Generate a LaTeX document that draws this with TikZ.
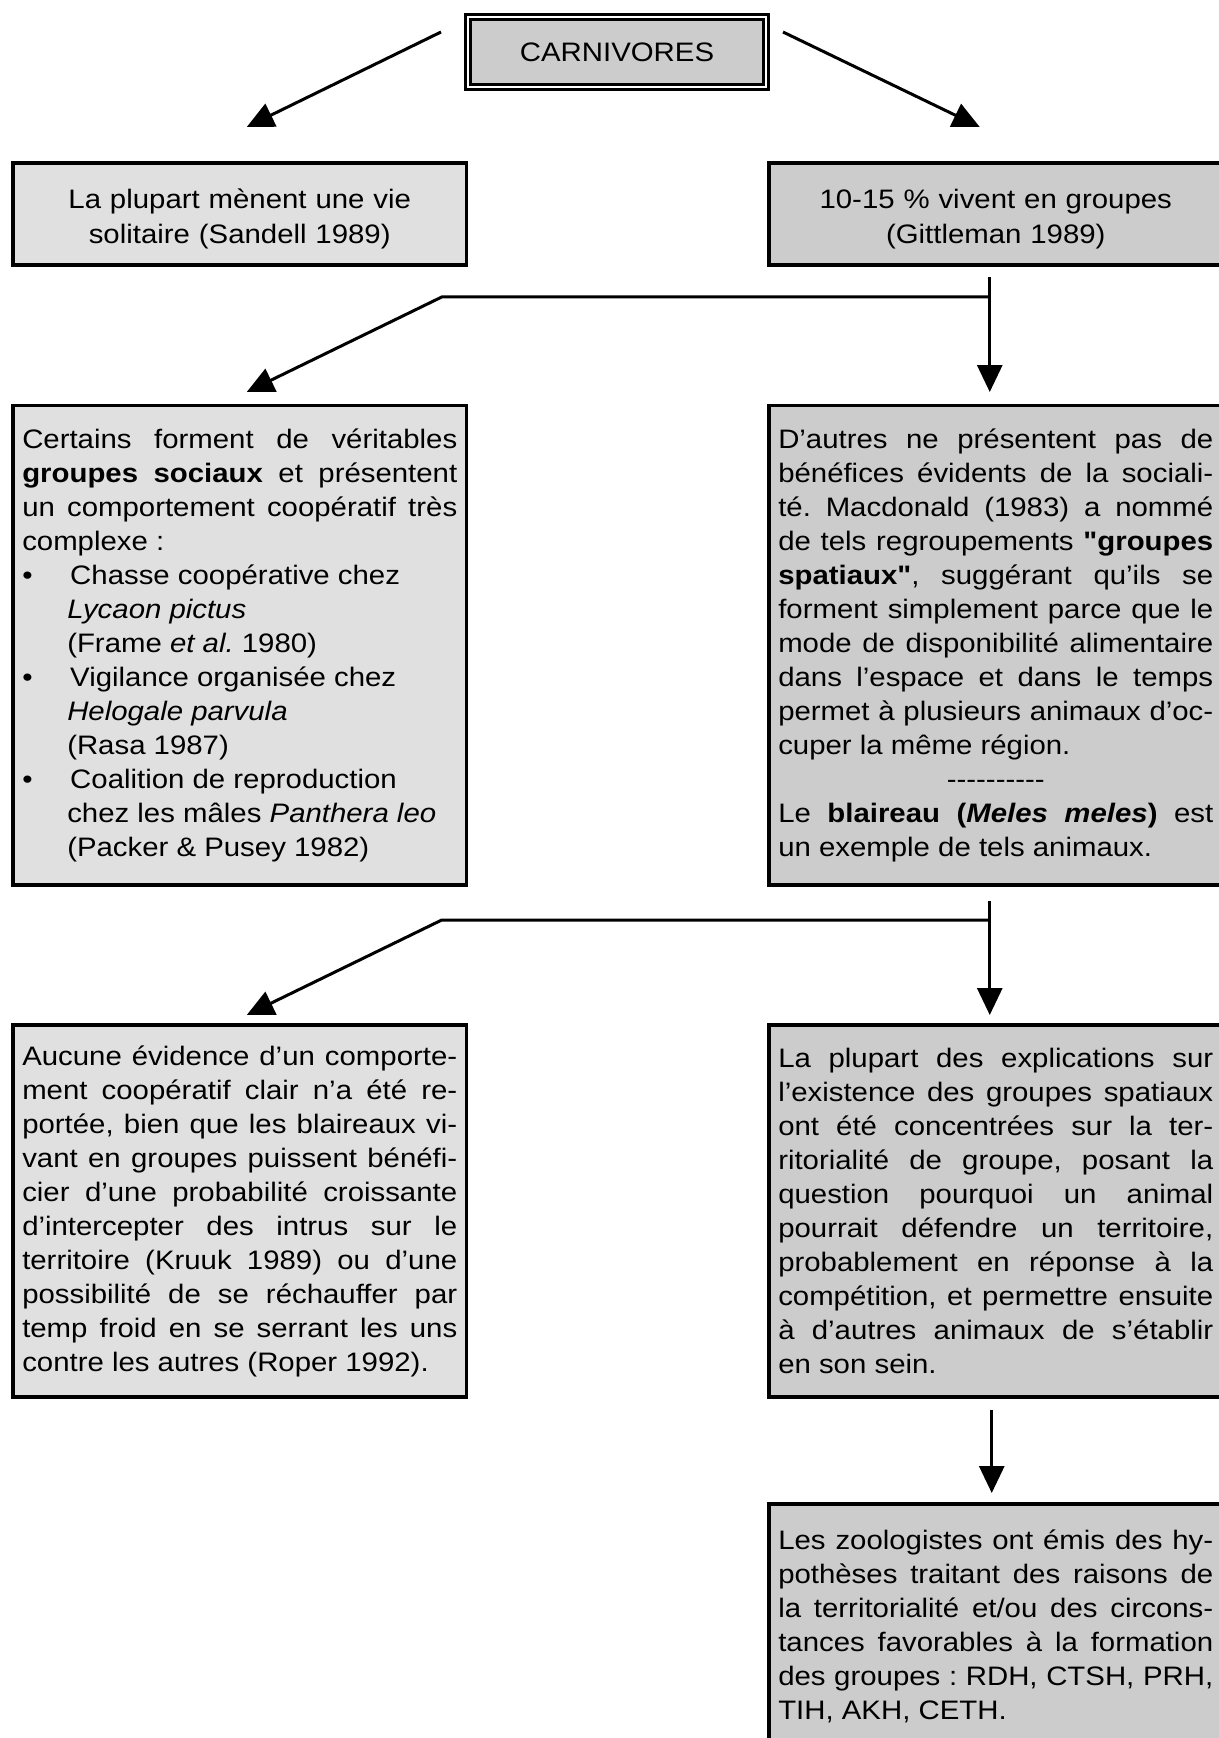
\documentclass[tikz,border=0pt]{standalone}
\usepackage{fontspec}
\setmainfont{Liberation Sans}[FakeStretch=1.1, Ligatures=TeXOff]
\usepackage{tikz}
\usetikzlibrary{positioning, arrows.meta}
\definecolor{lightgrey}{HTML}{E0E0E0}
\definecolor{midgrey}{HTML}{CCCCCC}
\frenchspacing

\begin{document}
\begin{tikzpicture}[
    x=0.5pt, y=-0.5pt,
    node distance=70pt and 151.25pt,
    box/.style={rectangle, draw=black, line width=1.75pt, outer sep=0pt,
                text width=217.5pt, inner xsep=4.625pt, inner ysep=0pt,
                font=\fontsize{13.35}{17}\selectfont},
    lightbox/.style={box, fill=lightgrey},
    darkbox/.style={box, fill=midgrey},
    titlebox/.style={rectangle, draw=black, line width=1.6pt, double=white,
                     double distance=1pt, fill=midgrey, outer sep=0pt,
                     minimum width=149pt, minimum height=35pt,
                     font=\fontsize{13.35}{17}\selectfont},
    arrow/.style={line width=1.5pt, -{Triangle[length=13.5pt, width=12.5pt]}}
]
    \useasboundingbox (0,0) rectangle (1219,1738);

    \node [titlebox] (carn) at (617,52) {CARNIVORES};

    % first level
    \node [lightbox, align=center, minimum height=51pt,
           font=\fontsize{13.35}{17.5}\selectfont, anchor=north west] (sol) at (13,163)
          {\rule{0pt}{15pt}La plupart mènent une vie\\solitaire (Sandell 1989)};
    \node [darkbox, align=center, minimum height=51pt,
           font=\fontsize{13.35}{17.5}\selectfont, right=of sol] (grp)
          {\rule{0pt}{15pt}10-15 \% vivent en groupes\\(Gittleman 1989)};

    % second level
    \node [lightbox, align=justify, minimum height=239.75pt, below=70.25pt of sol] (soc)
          {Certains forment de véritables\linebreak
           \textbf{groupes sociaux} et présentent\linebreak
           un comportement coopératif très\linebreak
           complexe :\\
           \makebox[24pt][l]{•}Chasse coopérative chez\\
           \hspace*{22.5pt}\textit{Lycaon pictus}\\
           \hspace*{22.5pt}(Frame \textit{et al.} 1980)\\
           \makebox[24pt][l]{•}Vigilance organisée chez\\
           \hspace*{22.5pt}\textit{Helogale parvula}\\
           \hspace*{22.5pt}(Rasa 1987)\\
           \makebox[24pt][l]{•}Coalition de reproduction\\
           \hspace*{22.5pt}chez les mâles \textit{Panthera leo}\\
           \hspace*{22.5pt}(Packer \& Pusey 1982)};
    \node [darkbox, align=justify, minimum height=239.75pt, right=of soc] (spat)
          {D’autres ne présentent pas de\linebreak
           bénéfices évidents de la sociali-\linebreak
           té. Macdonald (1983) a nommé\linebreak
           de tels regroupements \textbf{"groupes\linebreak
           spatiaux"}, suggérant qu’ils se\linebreak
           forment simplement parce que le\linebreak
           mode de disponibilité alimentaire\linebreak
           dans l’espace et dans le temps\linebreak
           permet à plusieurs animaux d’oc-\linebreak
           cuper la même région.\\
           \makebox[\linewidth]{----------}\\
           Le \textbf{blaireau (\textit{Meles meles})} est\linebreak
           un exemple de tels animaux.};

    % third level
    \node [lightbox, align=justify, minimum height=186pt, below=70pt of soc] (coop)
          {Aucune évidence d’un comporte-\linebreak
           ment coopératif clair n’a été re-\linebreak
           portée, bien que les blaireaux vi-\linebreak
           vant en groupes puissent bénéfi-\linebreak
           cier d’une probabilité croissante\linebreak
           d’intercepter des intrus sur le\linebreak
           territoire (Kruuk 1989) ou d’une\linebreak
           possibilité de se réchauffer par\linebreak
           temp froid en se serrant les uns\linebreak
           contre les autres (Roper 1992).};
    \node [darkbox, align=justify, minimum height=186pt, right=of coop] (terr)
          {La plupart des explications sur\linebreak
           l’existence des groupes spatiaux\linebreak
           ont été concentrées sur la ter-\linebreak
           ritorialité de groupe, posant la\linebreak
           question pourquoi un animal\linebreak
           pourrait défendre un territoire,\linebreak
           probablement en réponse à la\linebreak
           compétition, et permettre ensuite\linebreak
           à d’autres animaux de s’établir\linebreak
           en son sein.};

    % fourth level
    \node [darkbox, align=justify, minimum height=122.5pt, below=53.5pt of terr] (hypo)
          {Les zoologistes ont émis des hy-\linebreak
           pothèses traitant des raisons de\linebreak
           la territorialité et/ou des circons-\linebreak
           tances favorables à la formation\linebreak
           des groupes : RDH, CTSH, PRH,\linebreak
           TIH, AKH, CETH.};

    \draw [arrow] ([shift={(-27,-20)}]carn.west) -- ([shift={(7,-36)}]sol.north);
    \draw [arrow] ([shift={(17,-20)}]carn.east) -- ([shift={(-16,-36)}]grp.north);

    \draw [arrow] ([shift={(-6,12)}]grp.south) -- ([shift={(-6,-13.5)}]spat.north);
    \draw [arrow] ([shift={(-6,32)}]grp.south) -- ++(-548,0) -- ([shift={(7,-13.5)}]soc.north);

    \draw [arrow] ([shift={(-6,16)}]spat.south) -- ([shift={(-6,-10)}]terr.north);
    \draw [arrow] ([shift={(-6,35)}]spat.south) -- ++(-548,0) -- ([shift={(7,-10)}]coop.north);

    \draw [arrow] ([shift={(-4,13)}]terr.south) -- ([shift={(-4,-11)}]hypo.north);
\end{tikzpicture}
\end{document}
